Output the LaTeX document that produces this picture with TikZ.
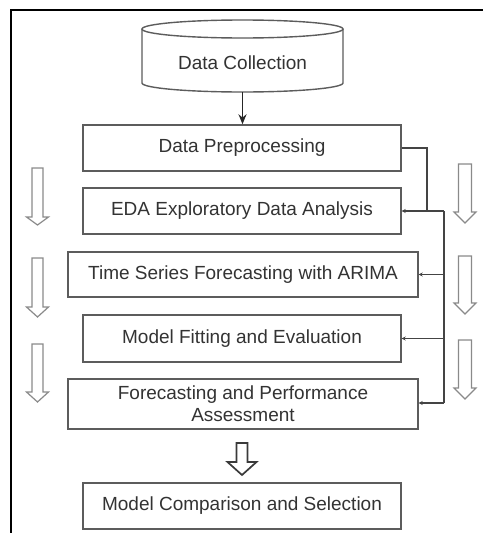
\documentclass[tikz,border=0pt]{standalone}
\usepackage{fontspec}
\setmainfont{Liberation Sans}
\usetikzlibrary{arrows.meta}
\definecolor{inkgray}{HTML}{333333}
\definecolor{edgegray}{HTML}{5C5C5C}
\definecolor{linkgray}{HTML}{444444}
\definecolor{hollowgray}{HTML}{8A8A8A}
\definecolor{darkhollow}{HTML}{3A3A3A}
\tikzset{
  stagebox/.style={draw=edgegray, line width=1.4pt, fill=white, rectangle,
    inner sep=0pt, text=inkgray, align=center,
    font=\fontsize{19}{22}\selectfont},
  link/.style={draw=linkgray, line width=1.3pt},
  feedback/.style={link, -{Stealth[length=4pt,width=4pt]}},
  flow/.style={draw=black!85, line width=1.5pt, -{Stealth[length=10pt,width=8pt]}},
  hollowline/.style={draw=hollowgray, line width=1.2pt, fill=white, line join=miter},
}
% hollow block arrow: centre x, shaft half width, head half width, top, head base, tip
\newcommand\hollowarrow[7][]{%
  \draw[hollowline,#1] ({#2-#3},#5) -- ({#2+#3},#5) -- ({#2+#3},#6) -- ({#2+#4},#6)
    -- (#2,#7) -- ({#2-#4},#6) -- ({#2-#3},#6) -- cycle;}
\begin{document}
\begin{tikzpicture}[x=1pt,y=-1pt]
  \useasboundingbox (0,0) rectangle (483,533);
  % frame lines along the top and left
  \draw[line width=2.2pt, black] (11,533) -- (11,10) -- (483,10);

  % database cylinder
  \fill[white] (142,29) -- (142,83) arc[start angle=180,end angle=360,x radius=100.5pt,y radius=9pt] -- (343,29) -- cycle;
  \draw[draw=edgegray, line width=1.4pt] (142,29) -- (142,83)
    arc[start angle=180,end angle=360,x radius=100.5pt,y radius=9pt] -- (343,29);
  \draw[draw=edgegray, line width=1.4pt] (242.5,29) ellipse [x radius=100.5pt, y radius=9pt];
  \node[text=inkgray, font=\fontsize{19}{22}\selectfont] (cyl) at (242.5,63) {Data Collection};
  \coordinate (cylBot) at (242.5,92);

  % processing stages
  \node[stagebox, minimum width=318pt, minimum height=46pt] (DP)  at (242,148)   {Data Preprocessing};
  \node[stagebox, minimum width=318pt, minimum height=46pt] (EDA) at (242,211)   {EDA Exploratory Data Analysis};
  \node[stagebox, minimum width=350pt, minimum height=45pt] (TS)  at (243,274.5) {Time Series Forecasting with ARIMA};
  \node[stagebox, minimum width=318pt, minimum height=47pt] (MF)  at (242,338.5) {Model Fitting and Evaluation};
  \node[stagebox, minimum width=350pt, minimum height=50pt] (FP)  at (243,404)   {Forecasting and Performance\\Assessment};
  \node[stagebox, minimum width=318pt, minimum height=46pt] (MC)  at (242,506)   {Model Comparison and Selection};

  % main flow
  \draw[flow] (cylBot) -- (cylBot |- DP.north);

  % feedback bus on the right
  \coordinate (join)   at (427,211);
  \coordinate (busTop) at (444,211);
  \coordinate (busBot) at (444,403);
  \draw[link] (DP.east) -| (join);
  \draw[link] (busTop) -- (busBot);
  \draw[feedback] (busTop) -- (EDA.east);
  \draw[feedback] (TS.east -| busTop) -- (TS.east);
  \draw[feedback] (MF.east -| busTop) -- (MF.east);
  \draw[feedback] (busBot) -- (busBot -| FP.east);

  % hollow arrows, left column
  \hollowarrow{37.5}{5.5}{11}{168}{217}{225}
  \hollowarrow{37.5}{5.5}{11}{258}{307}{317}
  \hollowarrow{37.5}{5.5}{11}{344}{392}{402}
  % hollow arrows, right column
  \hollowarrow{465}{6.5}{11}{164}{212}{223}
  \hollowarrow{465}{6.5}{11}{256}{303}{314}
  \hollowarrow{465}{6.5}{11}{340}{388}{399}
  % hollow arrow between the last two stages
  \hollowarrow[draw=darkhollow, line width=1.7pt]{242}{5.5}{14.5}{443}{462}{475}
\end{tikzpicture}
\end{document}
